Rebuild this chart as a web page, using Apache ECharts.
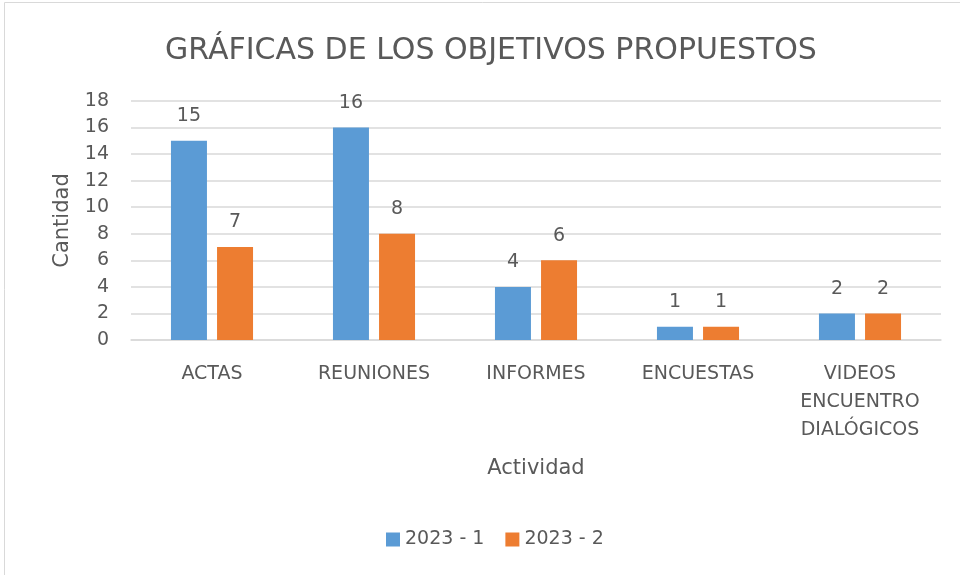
<!DOCTYPE html>
<html><head><meta charset="utf-8">
<script src="https://cdn.jsdelivr.net/npm/echarts@6/dist/echarts.min.js"></script>
<style>html,body{margin:0;padding:0;background:#fff}#c{width:960px;height:575px}</style>
</head><body><div id="c"></div>
<script>
const categories = ['ACTAS', 'REUNIONES', 'INFORMES', 'ENCUESTAS', 'VIDEOS\nENCUENTRO\nDIALÓGICOS'];
const seriesNames = ['2023 - 1', '2023 - 2'];
const values1 = [15, 16, 4, 1, 2];
const values2 = [7, 8, 6, 1, 2];
const yTicks = [0, 2, 4, 6, 8, 10, 12, 14, 16, 18];

const FONT = '"DejaVu Sans", sans-serif';
const TXT = '#595959';
const chart = echarts.init(document.getElementById('c'), null, {renderer: 'canvas'});
const labelCfg = {show: true, position: 'top', distance: 15, color: TXT, fontSize: 19, fontFamily: FONT};
chart.setOption({
  animation: false,
  textStyle: {fontFamily: FONT},
  graphic: [{type: 'rect', shape: {x: 4.5, y: 2.5, width: 970, height: 590}, style: {fill: 'none', stroke: '#d9d9d9', lineWidth: 1}, silent: true}],
  title: {text: 'GRÁFICAS DE LOS OBJETIVOS PROPUESTOS', left: 160, top: 31,
    textStyle: {color: TXT, fontSize: 30, fontWeight: 'normal', fontFamily: FONT}},
  legend: {data: seriesNames, bottom: 21, left: 381, itemWidth: 14, itemHeight: 14, itemGap: 21,
    icon: 'rect', textStyle: {color: TXT, fontSize: 19, fontFamily: FONT}},
  grid: {left: 131, right: 19, top: 101, bottom: 235, containLabel: false},
  xAxis: {type: 'category', data: categories,
    name: 'Actividad', nameLocation: 'middle', nameGap: 118,
    nameTextStyle: {color: TXT, fontSize: 21, fontFamily: FONT},
    axisLine: {lineStyle: {color: '#d9d9d9', width: 1.5}}, axisTick: {show: false},
    axisLabel: {color: TXT, fontSize: 19, margin: 20, lineHeight: 28, interval: 0, fontFamily: FONT}},
  yAxis: {type: 'value', min: yTicks[0], max: yTicks[yTicks.length - 1], interval: 2,
    name: 'Cantidad', nameLocation: 'middle', nameGap: 58,
    nameTextStyle: {color: TXT, fontSize: 21, fontFamily: FONT},
    axisLine: {show: false}, axisTick: {show: false},
    splitLine: {lineStyle: {color: '#d9d9d9', width: 1.5}},
    axisLabel: {color: TXT, fontSize: 19, margin: 22, fontFamily: FONT}},
  series: [
    {name: seriesNames[0], type: 'bar', data: values1, barWidth: 36, barGap: '28%', itemStyle: {color: '#5b9bd5'}, label: labelCfg},
    {name: seriesNames[1], type: 'bar', data: values2, barWidth: 36, barGap: '28%', itemStyle: {color: '#ed7d31'}, label: labelCfg}
  ]
});
</script></body></html>
